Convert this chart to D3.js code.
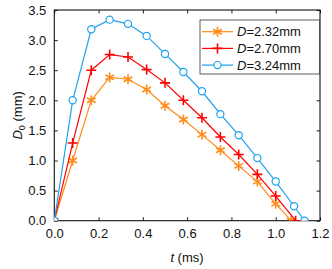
<!DOCTYPE html>
<html><head><meta charset="utf-8">
<script src="https://cdn.jsdelivr.net/npm/d3@7"></script>
<style>body{margin:0;background:#fff}text{font-family:Arial,"Liberation Sans",sans-serif}</style>
</head><body><svg id="c" width="332" height="269"></svg>
<script>
const tOrange = [0, 0.083, 0.167, 0.25, 0.333, 0.417, 0.5, 0.583, 0.667, 0.75, 0.833, 0.917, 1.0, 1.07];
const dOrange = [0, 1.0, 2.0, 2.38, 2.35, 2.18, 1.91, 1.68, 1.43, 1.17, 0.91, 0.65, 0.28, 0];
const tRed = [0, 0.083, 0.167, 0.25, 0.333, 0.417, 0.5, 0.583, 0.667, 0.75, 0.833, 0.917, 1.0, 1.09];
const dRed = [0, 1.29, 2.50, 2.76, 2.72, 2.51, 2.29, 2.0, 1.71, 1.39, 1.10, 0.77, 0.41, 0];
const tBlue = [0, 0.083, 0.167, 0.25, 0.333, 0.417, 0.5, 0.583, 0.667, 0.75, 0.833, 0.917, 1.0, 1.083, 1.13];
const dBlue = [0, 2.0, 3.18, 3.34, 3.27, 3.07, 2.77, 2.47, 2.15, 1.77, 1.42, 1.04, 0.65, 0.24, 0];
const seriesNames = ["2.32mm", "2.70mm", "3.24mm"];
const xTicks = [0, 0.2, 0.4, 0.6, 0.8, 1.0, 1.2];
const yTicks = [0, 0.5, 1.0, 1.5, 2.0, 2.5, 3.0, 3.5];

const colors = ["#ff8c1a", "#ff0000", "#1ca3ec"];
const markers = ["star", "plus", "circle"];
const series = [
  {t: tOrange, d: dOrange}, {t: tRed, d: dRed}, {t: tBlue, d: dBlue}
].map((s, i) => ({name: seriesNames[i], color: colors[i], marker: markers[i],
  pts: s.t.map((t, j) => [t, s.d[j]])}));

const L = 54.3, R = 320, T = 10, B = 220.7;
const x = d3.scaleLinear().domain([0, 1.2]).range([L, R]);
const y = d3.scaleLinear().domain([0, 3.5]).range([B, T]);
const svg = d3.select("#c");

// clip
svg.append("clipPath").attr("id", "clip").append("rect")
  .attr("x", L).attr("y", T).attr("width", R - L).attr("height", B - T);

const fmt = d3.format(".1f");
const tk = 3.5;
// bottom axis
const gx = svg.append("g").attr("transform", `translate(0,${B})`)
  .call(d3.axisBottom(x).tickValues(xTicks).tickFormat(fmt).tickSizeInner(-tk).tickSizeOuter(0).tickPadding(8));
const gxt = svg.append("g").attr("transform", `translate(0,${T})`)
  .call(d3.axisTop(x).tickValues(xTicks).tickFormat("").tickSizeInner(-tk).tickSizeOuter(0));
const gy = svg.append("g").attr("transform", `translate(${L},0)`)
  .call(d3.axisLeft(y).tickValues(yTicks).tickFormat(fmt).tickSizeInner(-tk).tickSizeOuter(0).tickPadding(8));
const gyr = svg.append("g").attr("transform", `translate(${R},0)`)
  .call(d3.axisRight(y).tickValues(yTicks).tickFormat("").tickSizeInner(-tk).tickSizeOuter(0));
[gx, gxt, gy, gyr].forEach(g => {
  g.select(".domain").remove();
  g.selectAll("line").attr("stroke", "#222");
  g.selectAll("text").attr("font-size", 13).attr("fill", "#111");
});
svg.append("rect").attr("x", L).attr("y", T).attr("width", R - L).attr("height", B - T)
  .attr("fill", "none").attr("stroke", "#111").attr("stroke-width", 1.1);

function drawMarker(g, m, color) {
  if (m === "circle") {
    g.append("circle").attr("r", 3.6).attr("fill", "#fff").attr("stroke", color).attr("stroke-width", 1.2);
  } else if (m === "plus") {
    const r = 5;
    g.append("path").attr("d", `M${-r},0H${r}M0,${-r}V${r}`).attr("stroke", color).attr("stroke-width", 1.6);
  } else {
    const r = 5;
    let d = "";
    for (let k = 0; k < 3; k++) {
      const a = Math.PI / 2 + k * Math.PI / 3;
      d += `M${(r * Math.cos(a)).toFixed(2)},${(r * Math.sin(a)).toFixed(2)}L${(-r * Math.cos(a)).toFixed(2)},${(-r * Math.sin(a)).toFixed(2)}`;
    }
    g.append("path").attr("d", d).attr("stroke", color).attr("stroke-width", 1.6);
  }
}

const line = d3.line().x(d => x(d[0])).y(d => y(d[1]));
const plot = svg.append("g").attr("clip-path", "url(#clip)");
series.forEach(s => {
  plot.append("path").datum(s.pts).attr("d", line).attr("fill", "none")
    .attr("stroke", s.color).attr("stroke-width", 1.2);
  s.pts.forEach(p => {
    const g = plot.append("g").attr("transform", `translate(${x(p[0])},${y(p[1])})`);
    drawMarker(g, s.marker, s.color);
  });
});

// legend
const lg = svg.append("g");
lg.append("rect").attr("x", 200).attr("y", 20).attr("width", 119.5).attr("height", 54)
  .attr("fill", "#fff").attr("stroke", "#333").attr("stroke-width", 0.8);
series.forEach((s, i) => {
  const yy = 31.7 + i * 16.7;
  lg.append("line").attr("x1", 202).attr("x2", 233).attr("y1", yy).attr("y2", yy)
    .attr("stroke", s.color).attr("stroke-width", 1.2);
  const g = lg.append("g").attr("transform", `translate(217.5,${yy})`);
  drawMarker(g, s.marker, s.color);
  const t = lg.append("text").attr("x", 237).attr("y", yy + 4.6).attr("font-size", 13).attr("fill", "#111");
  t.append("tspan").attr("font-style", "italic").text("D");
  t.append("tspan").text("=" + s.name);
});

// axis labels
const xl = svg.append("text").attr("x", 187).attr("y", 262).attr("text-anchor", "middle")
  .attr("font-size", 13).attr("fill", "#111");
xl.append("tspan").attr("font-style", "italic").text("t");
xl.append("tspan").text(" (ms)");
const yl = svg.append("text").attr("transform", `translate(22,${(T + B) / 2}) rotate(-90)`)
  .attr("text-anchor", "middle").attr("font-size", 13).attr("fill", "#111");
yl.append("tspan").attr("font-style", "italic").text("D");
yl.append("tspan").attr("font-size", 9).attr("dy", 3).text("0");
yl.append("tspan").attr("dy", -3).text(" (mm)");
</script></body></html>
